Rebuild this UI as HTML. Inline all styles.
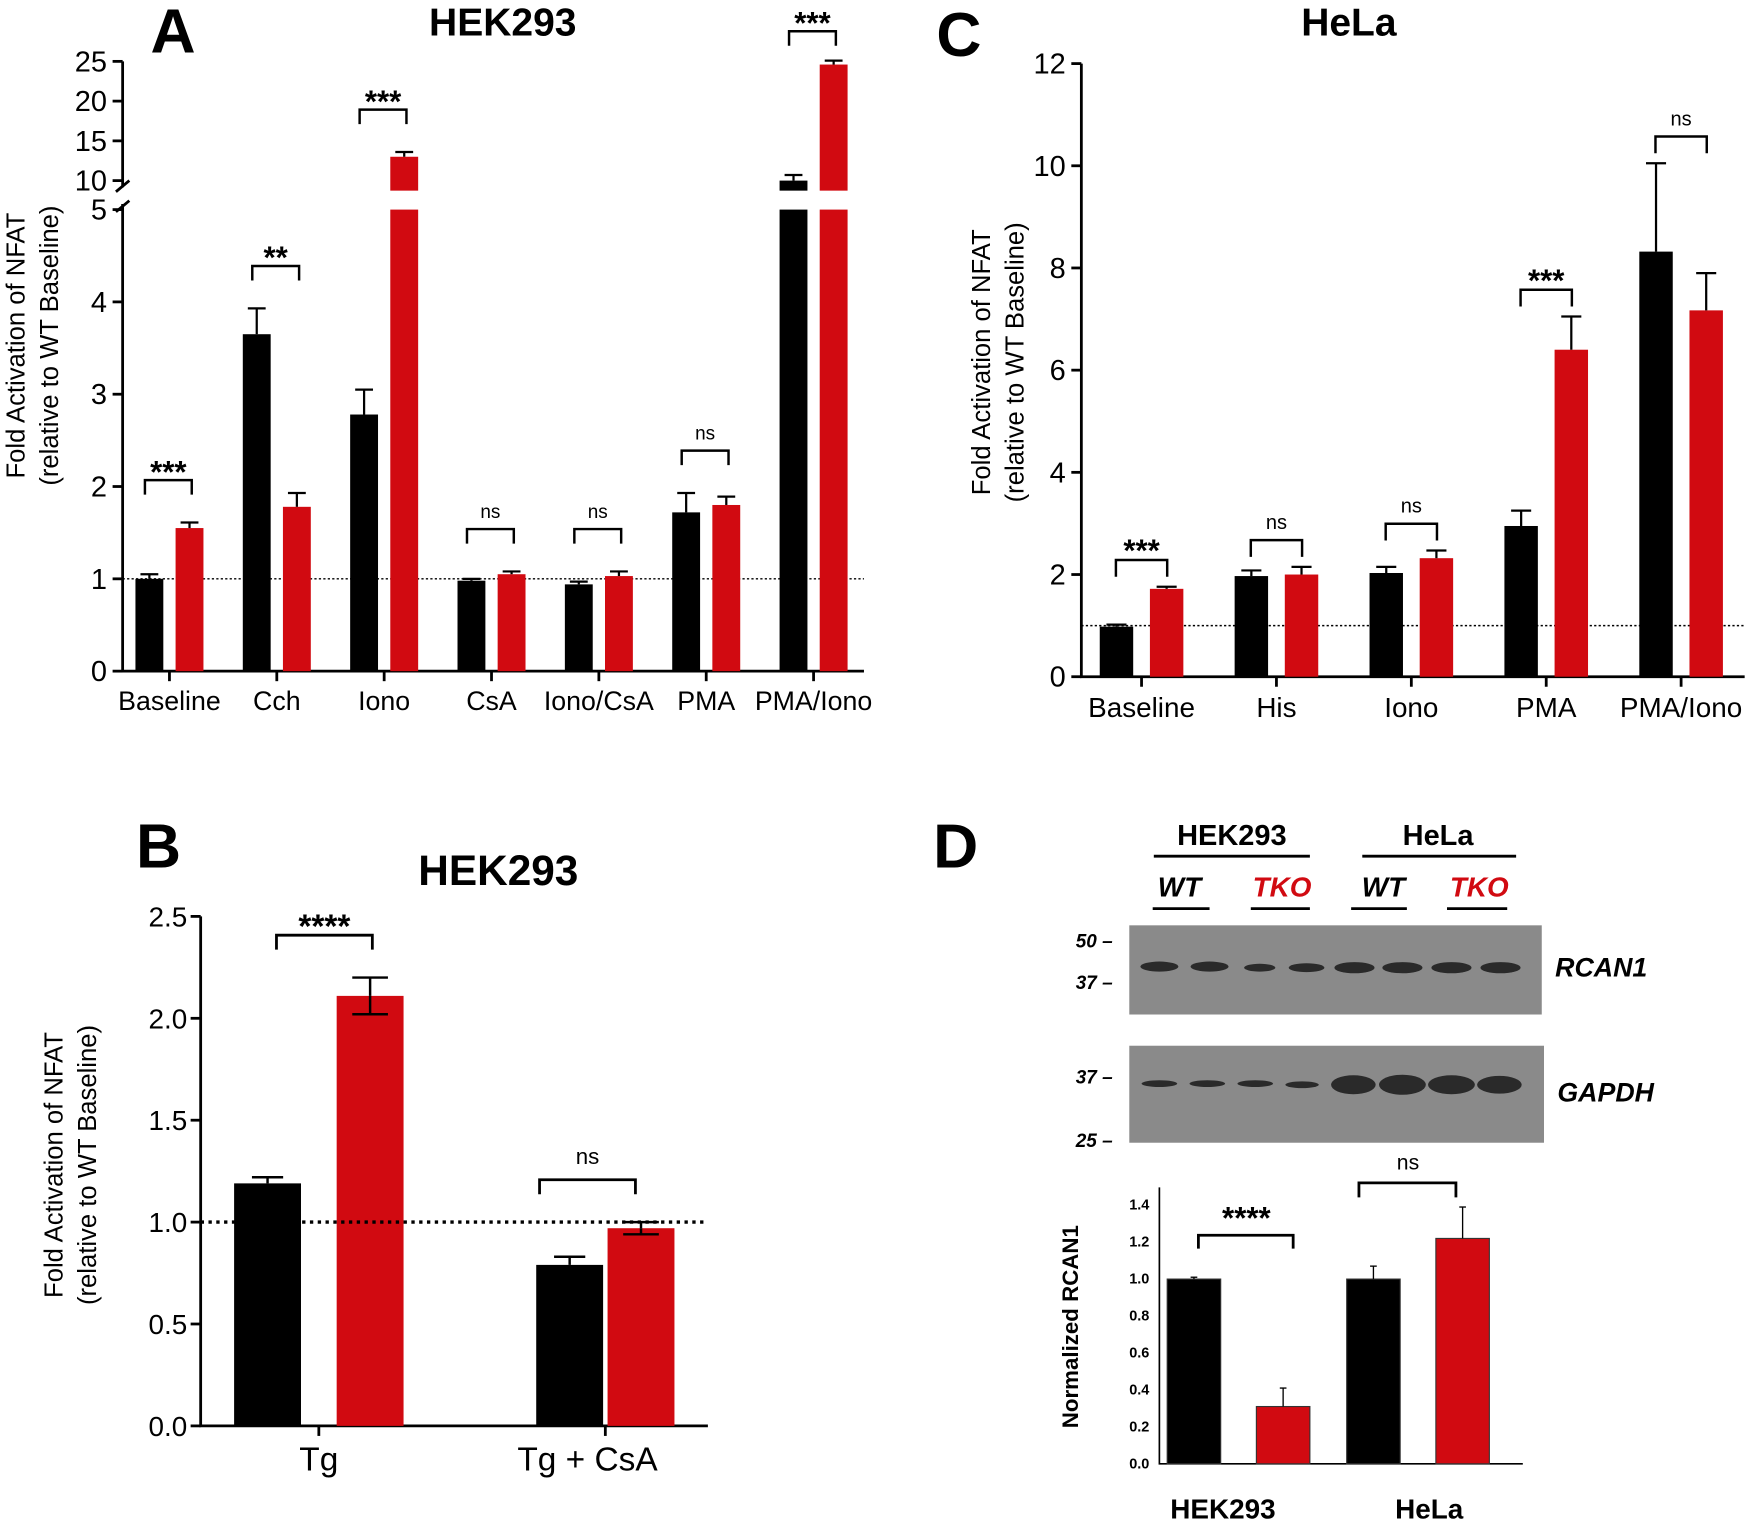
<!DOCTYPE html>
<html><head><meta charset="utf-8"><style>
html,body{margin:0;padding:0;background:#fff}
svg{display:block}
text{font-family:"Liberation Sans",Arial,sans-serif}
</style></head><body>
<svg id="fig" width="1748" height="1524" viewBox="0 0 1568 1367" preserveAspectRatio="none" xmlns="http://www.w3.org/2000/svg">
<g id="static">
<text x="135" y="47" font-size="56" font-weight="bold">A</text>
<text x="451" y="32" font-size="35" font-weight="bold" text-anchor="middle">HEK293</text>
<text x="840" y="50" font-size="56" font-weight="bold">C</text>
<text x="1210" y="32" font-size="35" font-weight="bold" text-anchor="middle">HeLa</text>
<text x="122" y="778" font-size="56" font-weight="bold">B</text>
<text x="447" y="794" font-size="38" font-weight="bold" text-anchor="middle">HEK293</text>
<text x="837" y="778" font-size="56" font-weight="bold">D</text>

<text transform="translate(22,310) rotate(-90)" font-size="23" text-anchor="middle">Fold Activation of NFAT</text>
<text transform="translate(52,310) rotate(-90)" font-size="23" text-anchor="middle">(relative to WT Baseline)</text>
<text transform="translate(888,325) rotate(-90)" font-size="23" text-anchor="middle">Fold Activation of NFAT</text>
<text transform="translate(918,325) rotate(-90)" font-size="23" text-anchor="middle">(relative to WT Baseline)</text>
<text transform="translate(56,1045) rotate(-90)" font-size="23" text-anchor="middle">Fold Activation of NFAT</text>
<text transform="translate(86,1045) rotate(-90)" font-size="23" text-anchor="middle">(relative to WT Baseline)</text>
<text transform="translate(967,1190) rotate(-90)" font-size="20" font-weight="bold" text-anchor="middle">Normalized RCAN1</text>

<g font-weight="bold">
<text x="1105" y="758" font-size="26" text-anchor="middle">HEK293</text>
<line x1="1035" y1="768" x2="1175" y2="768" stroke="#000" stroke-width="2.5"/>
<text x="1290" y="758" font-size="26" text-anchor="middle">HeLa</text>
<line x1="1222" y1="768" x2="1360" y2="768" stroke="#000" stroke-width="2.5"/>
<text x="1058" y="804" font-size="25" font-style="italic" text-anchor="middle">WT</text>
<line x1="1034" y1="815" x2="1085" y2="815" stroke="#000" stroke-width="2.5"/>
<text x="1150" y="804" font-size="25" font-style="italic" text-anchor="middle" fill="#d10a11">TKO</text>
<line x1="1122" y1="815" x2="1175" y2="815" stroke="#000" stroke-width="2.5"/>
<text x="1241" y="804" font-size="25" font-style="italic" text-anchor="middle">WT</text>
<line x1="1212" y1="815" x2="1262" y2="815" stroke="#000" stroke-width="2.5"/>
<text x="1327" y="804" font-size="25" font-style="italic" text-anchor="middle" fill="#d10a11">TKO</text>
<line x1="1298" y1="815" x2="1352" y2="815" stroke="#000" stroke-width="2.5"/>
</g>
<g>
<rect x="1013" y="830" width="370" height="80" fill="#8a8a8a"/>
<g fill="#2a2a2a">
<ellipse cx="1040" cy="867" rx="17" ry="4.5"/><ellipse cx="1085" cy="867" rx="17" ry="4.5"/>
<ellipse cx="1130" cy="868" rx="14" ry="3.5"/><ellipse cx="1172" cy="868" rx="16" ry="4"/>
<ellipse cx="1215" cy="868" rx="18" ry="5"/><ellipse cx="1258" cy="868" rx="18" ry="5"/>
<ellipse cx="1302" cy="868" rx="18" ry="5"/><ellipse cx="1346" cy="868" rx="18" ry="5"/>
</g>
<text x="965" y="850" font-size="17" font-style="italic" font-weight="bold">50 –</text>
<text x="965" y="887" font-size="17" font-style="italic" font-weight="bold">37 –</text>
<text x="1395" y="876" font-size="24" font-style="italic" font-weight="bold">RCAN1</text>
</g>
<g>
<rect x="1013" y="938" width="372" height="87" fill="#8a8a8a"/>
<g fill="#2a2a2a">
<ellipse cx="1040" cy="972" rx="16" ry="3"/><ellipse cx="1083" cy="972" rx="16" ry="3"/>
<ellipse cx="1126" cy="972" rx="16" ry="3"/><ellipse cx="1168" cy="973" rx="15" ry="3"/>
<ellipse cx="1214" cy="973" rx="20" ry="8.5"/><ellipse cx="1258" cy="973" rx="21" ry="9"/>
<ellipse cx="1302" cy="973" rx="21" ry="8.5"/><ellipse cx="1345" cy="973" rx="20" ry="8"/>
</g>
<text x="965" y="972" font-size="17" font-style="italic" font-weight="bold">37 –</text>
<text x="965" y="1029" font-size="17" font-style="italic" font-weight="bold">25 –</text>
<text x="1397" y="988" font-size="24" font-style="italic" font-weight="bold">GAPDH</text>
</g>
</g>
<g id="charts"></g>
</svg>
<script>
// ===== Panel A data =====
const aCategories = ["Baseline","Cch","Iono","CsA","Iono/CsA","PMA","PMA/Iono"];
const aWT = [1.0, 3.65, 2.78, 0.98, 0.94, 1.72, 10.0];
const aWTErr = [1.05, 3.93, 3.05, 1.0, 0.97, 1.93, 10.7];
const aTKO = [1.55, 1.78, 13.0, 1.05, 1.03, 1.8, 24.6];
const aTKOErr = [1.61, 1.93, 13.6, 1.08, 1.08, 1.89, 25.1];
const aSig = ["***","**","***","ns","ns","ns","***"];
const aLowTicks = [0,1,2,3,4,5];
const aHighTicks = [10,15,20,25];
// ===== Panel C data =====
const cCategories = ["Baseline","His","Iono","PMA","PMA/Iono"];
const cWT = [0.98, 1.97, 2.03, 2.95, 8.32];
const cWTErr = [1.02, 2.08, 2.15, 3.25, 10.05];
const cTKO = [1.72, 2.0, 2.32, 6.4, 7.17];
const cTKOErr = [1.76, 2.15, 2.47, 7.05, 7.9];
const cSig = ["***","ns","ns","***","ns"];
const cTicks = [0,2,4,6,8,10,12];
// ===== Panel B data =====
const bCategories = ["Tg","Tg + CsA"];
const bWT = [1.19, 0.79];
const bWTErr = [0.03, 0.04];
const bTKO = [2.11, 0.97];
const bTKOErr = [0.09, 0.03];
const bSig = ["****","ns"];
const bTicks = ["0.0","0.5","1.0","1.5","2.0","2.5"];
// ===== Panel D data =====
const dCategories = ["HEK293","HeLa"];
const dWT = [1.0, 1.0];
const dWTErr = [0.01, 0.07];
const dTKO = [0.31, 1.22];
const dTKOErr = [0.1, 0.17];
const dSig = ["****","ns"];
const dTicks = ["0.0","0.2","0.4","0.6","0.8","1.0","1.2","1.4"];

const NS="http://www.w3.org/2000/svg";
const root=document.getElementById('charts');
const RED="#d10a11";
function mk(tag,attrs,parent){const e=document.createElementNS(NS,tag);for(const k in attrs)e.setAttribute(k,attrs[k]);(parent||root).appendChild(e);return e;}
function txt(x,y,s,size,parent,extra){const t=mk('text',Object.assign({x:x,y:y,'font-size':size,'text-anchor':'middle'},extra||{}),parent);t.textContent=s;return t;}
function errBar(g,x,yTop,yErr,cap,sw){mk('line',{x1:x,y1:yTop,x2:x,y2:yErr,stroke:'#000','stroke-width':sw},g);mk('line',{x1:x-cap,y1:yErr,x2:x+cap,y2:yErr,stroke:'#000','stroke-width':sw},g);}
function bracket(g,x1,x2,y,leg,sw){mk('path',{d:`M${x1},${y+leg}V${y}H${x2}V${y+leg}`,fill:'none',stroke:'#000','stroke-width':sw},g);}

// ===== Panel A =====
(function(){
  const g=mk('g',{});
  
  
  const x0=110,x1=775,y0=602;
  const yLow=v=>y0-v*82.8;
  const yHigh=v=>162-(v-10)*7.13;
  const yA=v=>v<=5?yLow(v):yHigh(v);
  const upperBase=171;
  const xc=i=>152+i*96.3;
  mk('path',{d:`M${x0},55V168`,stroke:'#000','stroke-width':2.5,fill:'none'},g);
  mk('path',{d:`M${x0},183V${y0}H${x1}`,stroke:'#000','stroke-width':2.5,fill:'none'},g);
  mk('path',{d:`M${x0-6},172L${x0+6},162M${x0-6},190L${x0+6},180`,stroke:'#000','stroke-width':2.5},g);
  aLowTicks.forEach(v=>{mk('line',{x1:x0-9,y1:yLow(v),x2:x0,y2:yLow(v),stroke:'#000','stroke-width':2.5},g);
    const t=txt(x0-14,yLow(v)+9,String(v),26,g,{'text-anchor':'end'});
    });
  aHighTicks.forEach(v=>{mk('line',{x1:x0-9,y1:yHigh(v),x2:x0,y2:yHigh(v),stroke:'#000','stroke-width':2.5},g);
    const t=txt(x0-14,yHigh(v)+9,String(v),26,g,{'text-anchor':'end'});
    });
  mk('line',{x1:x0,y1:yLow(1),x2:x1,y2:yLow(1),stroke:'#000','stroke-width':1.3,'stroke-dasharray':'2,2'},g);
  const bw=25,off=18;
  aCategories.forEach((c,i)=>{
    const cx=xc(i);
    mk('line',{x1:cx,y1:y0,x2:cx,y2:y0+9,stroke:'#000','stroke-width':2.5},g);
    const l=txt(cx,y0+35,c,24,g);
    
    [[aWT[i],aWTErr[i],cx-off,'#000'],[aTKO[i],aTKOErr[i],cx+off,RED]].forEach(([v,e,bx,col])=>{
      const lowTop=yLow(Math.min(v,5));
      const r=mk('rect',{x:bx-bw/2,y:lowTop,width:bw,height:y0-lowTop,fill:col},g);
      
      if(v>5){const ht=yHigh(v);mk('rect',{x:bx-bw/2,y:ht,width:bw,height:upperBase-ht,fill:col},g);}
      errBar(g,bx,yA(v),yA(e),8,2);
    });
    const yb=Math.max(28,Math.min(yA(aWTErr[i]),yA(aTKOErr[i]))-38);
    bracket(g,cx-22,cx+20,yb,13,2.2);
    const s=txt(cx-1,yb-(aSig[i]==='ns'?10:-2),aSig[i],aSig[i]==='ns'?17:28,g,aSig[i]==='ns'?{}:{'font-weight':'bold'});
    
  });
})();

// ===== Panel C =====
(function(){
  const g=mk('g',{});
  
  
  const x0=970,x1=1565,y0=607;
  const y=v=>y0-v*45.83;
  const xc=i=>1024+i*121;
  mk('path',{d:`M${x0},${y(12)}V${y0}H${x1}`,stroke:'#000','stroke-width':2.5,fill:'none'},g);
  cTicks.forEach(v=>{mk('line',{x1:x0-9,y1:y(v),x2:x0,y2:y(v),stroke:'#000','stroke-width':2.5},g);
    const t=txt(x0-14,y(v)+9,String(v),26,g,{'text-anchor':'end'});
    });
  mk('line',{x1:x0,y1:y(1),x2:x1,y2:y(1),stroke:'#000','stroke-width':1.3,'stroke-dasharray':'2,2'},g);
  const bw=30,off=22.5;
  cCategories.forEach((c,i)=>{
    const cx=xc(i);
    mk('line',{x1:cx,y1:y0,x2:cx,y2:y0+9,stroke:'#000','stroke-width':2.5},g);
    const l=txt(cx,y0+36,c,25,g);
    
    [[cWT[i],cWTErr[i],cx-off,'#000'],[cTKO[i],cTKOErr[i],cx+off,RED]].forEach(([v,e,bx,col])=>{
      const r=mk('rect',{x:bx-bw/2,y:y(v),width:bw,height:y0-y(v),fill:col},g);
      
      errBar(g,bx,y(v),y(e),9,2);
    });
    const yb=Math.min(y(cWTErr[i]),y(cTKOErr[i]))-24;
    bracket(g,cx-23,cx+23,yb,15,2.2);
    const s=txt(cx,yb-(cSig[i]==='ns'?10:-1),cSig[i],cSig[i]==='ns'?18:28,g,cSig[i]==='ns'?{}:{'font-weight':'bold'});
    
  });
})();

// ===== Panel B =====
(function(){
  const g=mk('g',{});
  
  
  const x0=180,x1=635,y0=1279;
  const y=v=>y0-v*182.8;
  const centers=[286,543],offs=[46,32],brL=[248,484],brR=[334,570];
  mk('path',{d:`M${x0},${y(2.5)}V${y0}H${x1}`,stroke:'#000','stroke-width':2.5,fill:'none'},g);
  bTicks.forEach(s=>{const v=parseFloat(s);mk('line',{x1:x0-9,y1:y(v),x2:x0,y2:y(v),stroke:'#000','stroke-width':2.5},g);
    const t=txt(x0-12,y(v)+9,s,25,g,{'text-anchor':'end'});
    });
  const bw=60;
  bCategories.forEach((c,i)=>{
    const cx=centers[i];
    mk('line',{x1:cx,y1:y0,x2:cx,y2:y0+9,stroke:'#000','stroke-width':2.5},g);
    const l=txt(cx-(i?16:0),y0+40,c,30,g);
    
    [[bWT[i],bWTErr[i],cx-offs[i],'#000',false],[bTKO[i],bTKOErr[i],cx+offs[i],RED,true]].forEach(([v,e,bx,col,two])=>{
      const r=mk('rect',{x:bx-bw/2,y:y(v),width:bw,height:y0-y(v),fill:col},g);
      
      errBar(g,bx,y(v),y(v+e),col==='#000'?14:16,2.2);
      if(two){errBar(g,bx,y(v),y(v-e),16,2.2);}
    });
    const yb=Math.min(y(bWT[i]+bWTErr[i]),y(bTKO[i]+bTKOErr[i]))-38;
    bracket(g,brL[i],brR[i],yb,13,2.5);
    const s=txt((brL[i]+brR[i])/2,yb-(bSig[i]==='ns'?14:-2),bSig[i],bSig[i]==='ns'?20:30,g,bSig[i]==='ns'?{}:{'font-weight':'bold'});
    
  });
  mk('line',{x1:x0,y1:y(1),x2:x1,y2:y(1),stroke:'#000','stroke-width':3,'stroke-dasharray':'3,4'},g);
})();

// ===== Panel D =====
(function(){
  const g=mk('g',{});
  
  
  const x0=1040,x1=1366,y0=1313;
  const y=v=>y0-v*165.7;
  const centers=[1111,1272],off=40;
  mk('path',{d:`M${x0},1065V${y0}H${x1}`,stroke:'#000','stroke-width':1.5,fill:'none'},g);
  dTicks.forEach(s=>{const v=parseFloat(s);
    const t=txt(x0-9,y(v)+4,s,13,g,{'text-anchor':'end','font-weight':'bold'});
    });
  const bw=48;
  dCategories.forEach((c,i)=>{
    const cx=centers[i];
    const l=txt(cx-(i?-10:14),1362,c,25,g,{'font-weight':'bold'});
    
    [[dWT[i],dWTErr[i],cx-off,'#000'],[dTKO[i],dTKOErr[i],cx+off,RED]].forEach(([v,e,bx,col])=>{
      const r=mk('rect',{x:bx-bw/2,y:y(v),width:bw,height:y0-y(v),fill:col,stroke:'#333','stroke-width':1},g);
      
      errBar(g,bx,y(v),y(v+e),3,1.2);
    });
  });
  bracket(g,1075,1160,1108,12,2.5);
  const s1=txt(1118,1102,dSig[0],28,g,{'font-weight':'bold'});
  
  bracket(g,1219,1306,1061,13,2.5);
  const s2=txt(1263,1049,dSig[1],19,g);
  
})();
</script>
</body></html>
